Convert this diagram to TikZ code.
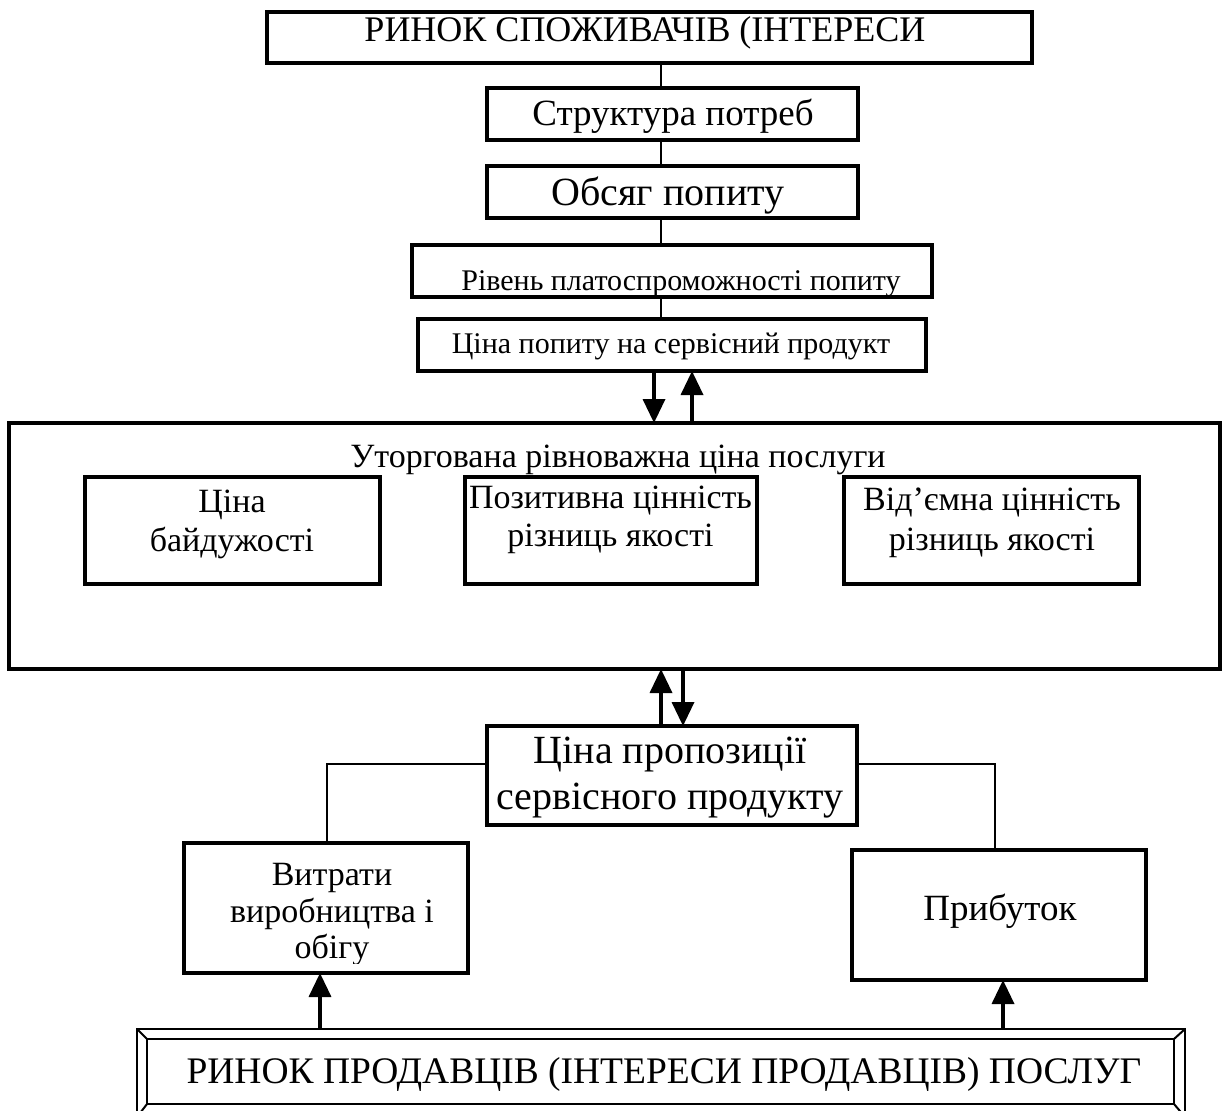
\documentclass[tikz,border=0pt]{standalone}
\usepackage{fontspec}
\setmainfont{Liberation Serif}
\usetikzlibrary{arrows.meta}
\newcommand{\myfs}[1]{\fontsize{#1}{#1}\selectfont}
\begin{document}
\begin{tikzpicture}[x=1pt,y=-1pt,
  box/.style={draw, line width=3.5pt, inner sep=0pt, outer sep=0pt},
  conn/.style={line width=2.5pt},
  arr/.style={line width=3.5pt, -{Triangle[width=22pt,length=24pt]}},
  lbl/.style={inner sep=0pt, anchor=base}]
\useasboundingbox (0,0) rectangle (1222,1110);

% boxes
\node[box, minimum width=765pt, minimum height=51pt] (top) at (649.5,37.5) {};
\node[box, minimum width=371pt, minimum height=52pt] (s1) at (672.5,114) {};
\node[box, minimum width=371pt, minimum height=52pt] (s2) at (672.5,192) {};
\node[box, minimum width=520pt, minimum height=52pt] (s3) at (672,271) {};
\node[box, minimum width=508pt, minimum height=52pt] (s4) at (672,345) {};
\node[box, minimum width=1211pt, minimum height=246pt] (big) at (614.5,546) {};
\node[box, minimum width=295pt, minimum height=107pt] (i1) at (232.5,530.5) {};
\node[box, minimum width=292pt, minimum height=107pt] (i2) at (611,530.5) {};
\node[box, minimum width=295pt, minimum height=107pt] (i3) at (991.5,530.5) {};
\node[box, minimum width=370pt, minimum height=99pt] (s5) at (672,775.5) {};
\node[box, minimum width=284pt, minimum height=130pt] (v) at (326,908) {};
\node[box, minimum width=294pt, minimum height=130pt] (p) at (999,915) {};
\node[draw, line width=2.5pt, inner sep=0pt, outer sep=0pt, minimum width=1027pt, minimum height=65pt] (bot) at (660.5,1071.5) {};

% bevelled outer frame of bottom box
\coordinate (bonw) at ([shift={(-10,-10)}]bot.north west);
\coordinate (bose) at ([shift={(11,13)}]bot.south east);
\coordinate (bone) at (bose |- bonw);
\coordinate (bosw) at (bonw |- bose);
\draw[line width=2.5pt] (bonw) rectangle (bose);
\draw[line width=2pt] (bonw) -- (bot.north west);
\draw[line width=2pt] (bone) -- (bot.north east);
\draw[line width=2pt] (bosw) -- (bot.south west);
\draw[line width=2pt] (bose) -- (bot.south east);

% texts
\node[lbl, font=\myfs{36}] (ttop) at (645,42) {РИНОК СПОЖИВАЧІВ (ІНТЕРЕСИ};
\node[lbl, font=\myfs{37}] (ts1) at (673,126) {Структура потреб};
\node[lbl, font=\myfs{40}] (ts2) at (668,205) {Обсяг попиту};
\node[lbl, font=\myfs{30}] (ts3) at (681,290) {Рівень платоспроможності попиту};
\node[lbl, font=\myfs{30}] (ts4) at (671,353) {Ціна попиту на сервісний продукт};
\node[lbl, font=\myfs{34}] (tbig) at (618,467) {Уторгована рівноважна ціна послуги};
\node[lbl, font=\myfs{34}] (ti1a) at (232,512) {Ціна};
\node[lbl, font=\myfs{34}] (ti1b) at (232,551) {байдужості};
\node[lbl, font=\myfs{34}] (ti2a) at (610.5,508) {Позитивна цінність};
\node[lbl, font=\myfs{34}] (ti2b) at (610.5,546) {різниць якості};
\node[lbl, font=\myfs{34}] (ti3a) at (992,510) {Від’ємна цінність};
\node[lbl, font=\myfs{34}] (ti3b) at (992,550) {різниць якості};
\node[lbl, font=\myfs{40}] (ts5a) at (670,763) {Ціна пропозиції};
\node[lbl, font=\myfs{40}] (ts5b) at (670,809) {сервісного продукту};
\node[lbl, font=\myfs{34}] (tva) at (332,885) {Витрати};
\node[lbl, font=\myfs{34}] (tvb) at (332,922) {виробництва і};
\begin{scope}
  \clip ([xshift=2pt,yshift=-2pt]v.north west) rectangle ([xshift=-2pt,yshift=10pt]v.south east);
  \node[lbl, font=\myfs{34}] (tvc) at (332,958) {обігу};
\end{scope}
\node[lbl, font=\myfs{37}] (tp) at (1000,920) {Прибуток};
\node[lbl, font=\myfs{37.5}] (tbot) at (664,1083) {РИНОК ПРОДАВЦІВ (ІНТЕРЕСИ ПРОДАВЦІВ) ПОСЛУГ};

% connector x positions
\coordinate (c1) at (661,0);
\coordinate (a1) at (654,0);
\coordinate (a2) at (692,0);
\coordinate (a3) at (661,0);
\coordinate (a4) at (683,0);
\coordinate (h1) at (0,764);
\coordinate (xl) at (327,0);
\coordinate (xr) at (995,0);
\coordinate (a5) at (320,0);
\coordinate (a6) at (1003,0);

\draw[conn] (top.south -| c1) -- (s1.north -| c1);
\draw[conn] (s1.south -| c1) -- (s2.north -| c1);
\draw[conn] (s2.south -| c1) -- (s3.north -| c1);
\draw[conn] (s3.south -| c1) -- (s4.north -| c1);

\draw[arr] (s4.south -| a1) -- (big.north -| a1);
\draw[arr] (big.north -| a2) -- (s4.south -| a2);
\draw[arr] (s5.north -| a3) -- (big.south -| a3);
\draw[arr] (big.south -| a4) -- (s5.north -| a4);

\draw[conn] (s5.west |- h1) -| (v.north -| xl);
\draw[conn] (s5.east |- h1) -| (p.north -| xr);

\draw[arr] (bonw -| a5) -- (v.south -| a5);
\draw[arr] (bonw -| a6) -- (p.south -| a6);
\end{tikzpicture}
\end{document}
